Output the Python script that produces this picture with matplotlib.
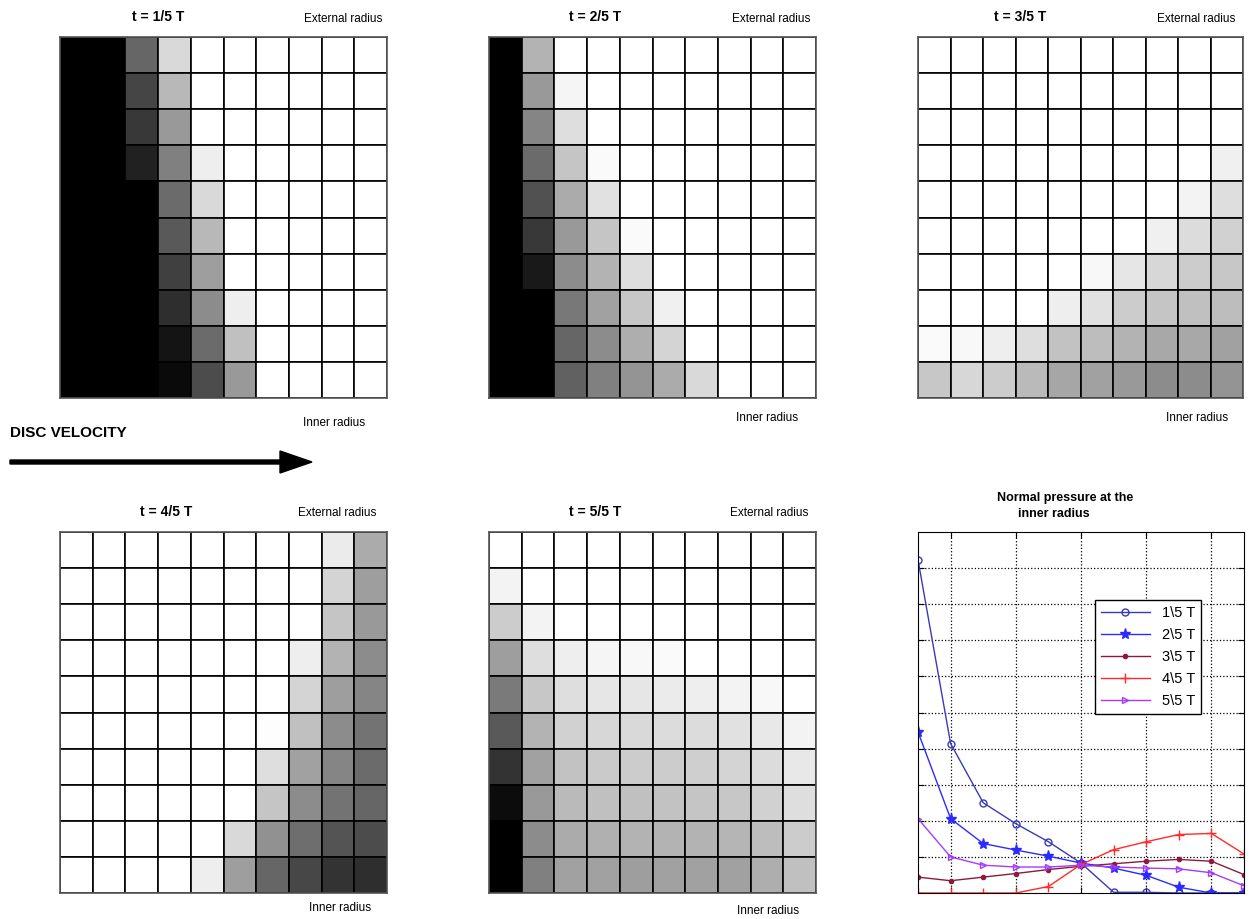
import numpy as np
import matplotlib
matplotlib.use("Agg")
import matplotlib.pyplot as plt
from matplotlib.patches import FancyArrow

plt.rcParams['font.family'] = ['Liberation Sans', 'DejaVu Sans']

W, H = 1252, 919

# grey level of every cell (0 = black, 1 = white), row 0 = external radius
g1 = [
    [0, 0, 0.40, 0.85, 1.00, 1.00, 1, 1, 1, 1],
    [0, 0, 0.27, 0.72, 1.00, 1.00, 1, 1, 1, 1],
    [0, 0, 0.22, 0.60, 1.00, 1.00, 1, 1, 1, 1],
    [0, 0, 0.13, 0.50, 0.93, 1.00, 1, 1, 1, 1],
    [0, 0, 0.00, 0.42, 0.85, 1.00, 1, 1, 1, 1],
    [0, 0, 0.00, 0.35, 0.72, 1.00, 1, 1, 1, 1],
    [0, 0, 0.00, 0.25, 0.62, 1.00, 1, 1, 1, 1],
    [0, 0, 0.00, 0.18, 0.55, 0.93, 1, 1, 1, 1],
    [0, 0, 0.00, 0.08, 0.42, 0.75, 1, 1, 1, 1],
    [0, 0, 0.00, 0.04, 0.30, 0.60, 1, 1, 1, 1],
]
g2 = [
    [0, 0.70, 1.00, 1.00, 1.00, 1.00, 1.00, 1, 1, 1],
    [0, 0.60, 0.96, 1.00, 1.00, 1.00, 1.00, 1, 1, 1],
    [0, 0.52, 0.87, 1.00, 1.00, 1.00, 1.00, 1, 1, 1],
    [0, 0.42, 0.77, 0.98, 1.00, 1.00, 1.00, 1, 1, 1],
    [0, 0.32, 0.67, 0.88, 1.00, 1.00, 1.00, 1, 1, 1],
    [0, 0.22, 0.60, 0.77, 0.98, 1.00, 1.00, 1, 1, 1],
    [0, 0.10, 0.55, 0.70, 0.87, 1.00, 1.00, 1, 1, 1],
    [0, 0.00, 0.47, 0.63, 0.78, 0.94, 1.00, 1, 1, 1],
    [0, 0.00, 0.40, 0.55, 0.68, 0.83, 1.00, 1, 1, 1],
    [0, 0.00, 0.38, 0.50, 0.58, 0.67, 0.85, 1, 1, 1],
]
g3 = [
    [1.00, 1.00, 1.00, 1.00, 1.00, 1.00, 1.00, 1.00, 1.00, 1.00],
    [1.00, 1.00, 1.00, 1.00, 1.00, 1.00, 1.00, 1.00, 1.00, 1.00],
    [1.00, 1.00, 1.00, 1.00, 1.00, 1.00, 1.00, 1.00, 1.00, 1.00],
    [1.00, 1.00, 1.00, 1.00, 1.00, 1.00, 1.00, 1.00, 1.00, 0.94],
    [1.00, 1.00, 1.00, 1.00, 1.00, 1.00, 1.00, 1.00, 0.95, 0.87],
    [1.00, 1.00, 1.00, 1.00, 1.00, 1.00, 1.00, 0.94, 0.86, 0.82],
    [1.00, 1.00, 1.00, 1.00, 1.00, 0.97, 0.90, 0.84, 0.80, 0.78],
    [1.00, 1.00, 1.00, 1.00, 0.93, 0.88, 0.80, 0.77, 0.75, 0.74],
    [0.98, 0.97, 0.93, 0.87, 0.76, 0.74, 0.70, 0.66, 0.66, 0.63],
    [0.78, 0.84, 0.80, 0.73, 0.65, 0.63, 0.60, 0.55, 0.55, 0.58],
]
g4 = [
    [1, 1, 1, 1, 1.00, 1.00, 1.00, 1.00, 0.92, 0.67],
    [1, 1, 1, 1, 1.00, 1.00, 1.00, 1.00, 0.83, 0.62],
    [1, 1, 1, 1, 1.00, 1.00, 1.00, 1.00, 0.77, 0.60],
    [1, 1, 1, 1, 1.00, 1.00, 1.00, 0.93, 0.70, 0.55],
    [1, 1, 1, 1, 1.00, 1.00, 1.00, 0.83, 0.62, 0.52],
    [1, 1, 1, 1, 1.00, 1.00, 0.99, 0.75, 0.55, 0.45],
    [1, 1, 1, 1, 1.00, 1.00, 0.87, 0.63, 0.52, 0.42],
    [1, 1, 1, 1, 1.00, 1.00, 0.77, 0.55, 0.45, 0.40],
    [1, 1, 1, 1, 1.00, 0.85, 0.57, 0.43, 0.33, 0.30],
    [1, 1, 1, 1, 0.93, 0.62, 0.40, 0.28, 0.20, 0.18],
]
g5 = [
    [1.00, 1.00, 1.00, 1.00, 1.00, 1.00, 1.00, 1.00, 1.00, 1.00],
    [0.95, 1.00, 1.00, 1.00, 1.00, 1.00, 1.00, 1.00, 1.00, 1.00],
    [0.80, 0.95, 1.00, 1.00, 1.00, 1.00, 1.00, 1.00, 1.00, 1.00],
    [0.62, 0.87, 0.93, 0.96, 0.97, 0.98, 1.00, 1.00, 1.00, 1.00],
    [0.48, 0.78, 0.87, 0.90, 0.90, 0.92, 0.93, 0.95, 0.97, 1.00],
    [0.35, 0.70, 0.82, 0.84, 0.85, 0.86, 0.86, 0.88, 0.91, 0.95],
    [0.20, 0.63, 0.76, 0.79, 0.80, 0.80, 0.81, 0.83, 0.86, 0.91],
    [0.05, 0.60, 0.73, 0.75, 0.75, 0.76, 0.77, 0.78, 0.82, 0.87],
    [0.00, 0.55, 0.67, 0.69, 0.70, 0.70, 0.70, 0.71, 0.74, 0.80],
    [0.00, 0.50, 0.63, 0.63, 0.62, 0.63, 0.63, 0.63, 0.68, 0.75],
]
grid_titles = ["t = 1/5 T", "t = 2/5 T", "t = 3/5 T", "t = 4/5 T", "t = 5/5 T"]

# normal pressure at the inner radius
xpos = list(range(1, 12))
p1 = [9.23, 4.14, 2.50, 1.92, 1.42, 0.83, 0.02, 0.02, 0.0, 0.0, 0.0]
p2 = [4.46, 2.06, 1.37, 1.19, 1.02, 0.83, 0.69, 0.49, 0.16, 0.0, 0.0]
p3 = [0.44, 0.34, 0.44, 0.54, 0.65, 0.74, 0.81, 0.88, 0.93, 0.88, 0.51]
p4 = [0.0, 0.0, 0.0, 0.0, 0.18, 0.79, 1.20, 1.42, 1.62, 1.65, 1.08]
p5 = [2.06, 1.00, 0.77, 0.72, 0.72, 0.77, 0.72, 0.69, 0.67, 0.56, 0.20]
series_labels = ["1\\5 T", "2\\5 T", "3\\5 T", "4\\5 T", "5\\5 T"]


def px_axes(fig, x0, y0, x1, y1):
    return fig.add_axes([x0 / W, 1 - y1 / H, (x1 - x0) / W, (y1 - y0) / H])


def px_text(fig, x, y, s, **kw):
    fig.text(x / W, 1 - y / H, s, **kw)


fig = plt.figure(figsize=(W / 100, H / 100), dpi=100)

# (x0, y0, x1, y1) of each grid, plus label anchors
boxes = [(60, 37, 387, 398), (489, 37, 816, 398), (918, 37, 1243, 398),
         (60, 532, 387, 893), (489, 532, 816, 893)]
title_xy = [(158, 17), (595, 17), (1020, 17), (166, 512), (595, 512)]
ext_xy = [(343, 19), (771, 19), (1196, 19), (337, 513), (769, 513)]
inner_xy = [(334, 423), (767, 418), (1197, 418), (340, 908), (768, 911)]

for vals, box, title, t_xy, e_xy, i_xy in zip(
        [g1, g2, g3, g4, g5], boxes, grid_titles, title_xy, ext_xy, inner_xy):
    ax = px_axes(fig, *box)
    ax.pcolormesh(np.arange(11), np.arange(11), np.array(vals), cmap='gray',
                  vmin=0, vmax=1, edgecolors='black', linewidth=1.2,
                  antialiased=True)
    ax.set_xlim(0, 10)
    ax.set_ylim(10, 0)
    ax.set_xticks([])
    ax.set_yticks([])
    for sp in ax.spines.values():
        sp.set_color('#555555')
        sp.set_linewidth(1.2)
    px_text(fig, *t_xy, title, ha='center', va='center', fontsize=10, fontweight='bold')
    px_text(fig, *e_xy, "External radius", ha='center', va='center', fontsize=8.5)
    px_text(fig, *i_xy, "Inner radius", ha='center', va='center', fontsize=8.5)

# disc velocity arrow
px_text(fig, 10, 433, "DISC VELOCITY", ha='left', va='center', fontsize=11, fontweight='bold')
fig.patches.append(FancyArrow(
    10 / W, 1 - 462 / H, 302 / W, 0, width=4 / H, head_width=22 / H,
    head_length=32 / W, length_includes_head=True, color='black',
    transform=fig.transFigure, figure=fig))

# pressure chart
ax = px_axes(fig, 918, 532, 1244, 893)
ax.plot(xpos, p1, color='#3a3ab8', marker='o', mfc='none', ms=5, lw=1, label=series_labels[0])
ax.plot(xpos, p2, color='#2b2bff', marker='*', ms=8, lw=1, label=series_labels[1])
ax.plot(xpos, p3, color='#8c1a3c', marker='.', ms=6, lw=1, label=series_labels[2])
ax.plot(xpos, p4, color='#ff2a2a', marker='+', ms=7, lw=1, label=series_labels[3])
ax.plot(xpos, p5, color='#a23cff', marker='>', mfc='none', ms=5, lw=1, label=series_labels[4])
ax.set_xlim(1, 11)
ax.set_ylim(0, 10)
ax.set_xticks([2, 4, 6, 8, 10])
ax.set_yticks(range(1, 10))
ax.tick_params(direction='in', length=4, labelbottom=False, labelleft=False,
               top=True, right=True)
ax.grid(True, linestyle=':', color='black', linewidth=0.9)
for sp in ax.spines.values():
    sp.set_color('black')
leg = ax.legend(loc='upper right', bbox_to_anchor=(0.868, 0.812), borderaxespad=0,
                fancybox=False, framealpha=1, edgecolor='black', fontsize=10.5,
                handlelength=3.4, labelspacing=0.55)
leg.get_frame().set_linewidth(1.0)
px_text(fig, 997, 506, "Normal pressure at the\n      inner radius", ha='left', va='center',
        fontsize=9, fontweight='bold', linespacing=1.4)

fig.savefig('out.png', dpi=100)
